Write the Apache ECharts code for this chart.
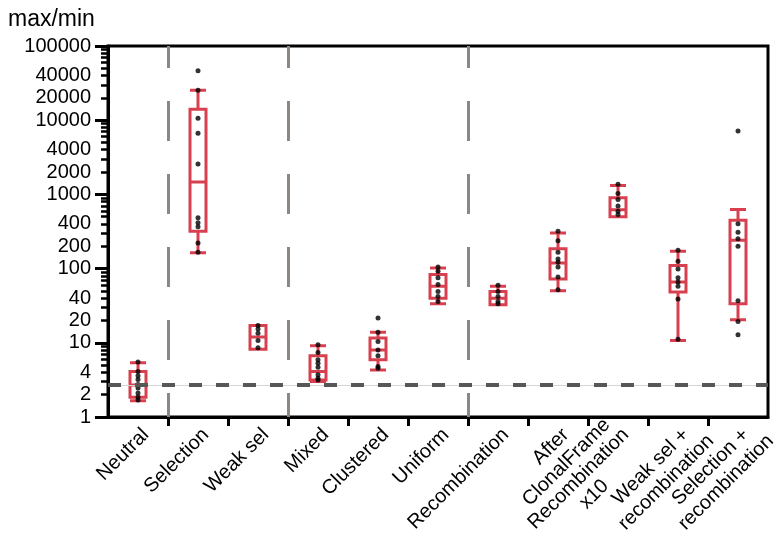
<!DOCTYPE html>
<html><head><meta charset="utf-8">
<script src="https://cdn.jsdelivr.net/npm/echarts@6/dist/echarts.min.js"></script>
<style>html,body{margin:0;padding:0;background:#fff}#c{width:776px;height:543px}</style>
</head><body><div id="c"></div>
<script>
// ---- data (raw values) ----
const categories = ['Neutral', 'Selection', 'Weak sel', 'Mixed', 'Clustered', 'Uniform',
  'Recombination', 'After\nClonalFrame', 'Recombination\nx10', 'Weak sel +\nrecombination', 'Selection +\nrecombination'];

const boxMin    = [1.65, 163,   8.2,  3.0,  4.3,  33.6, 32.6, 50.4, 499,  10.7, 20.5];
const boxQ1     = [1.85, 319,   8.2,  3.16, 5.9,  40,   32.6, 72.6, 499,  48.4, 33.6];
const boxMedian = [2.7,  1470,  12,   4.1,  8.0,  57.7, 40,   119,  620,  66,   241];
const boxQ3     = [4.1,  14100, 17.1, 6.67, 11.6, 83,   49,   185,  902,  110,  450];
const boxMax    = [5.4,  25400, 17.1, 9.1,  13.9, 102,  57.7, 303,  1320, 171,  627];

const ptsNeutral   = [5.5, 4.1, 3.6, 3.2, 2.75, 2.45, 2.1, 1.86, 1.7];
const ptsSelection = [46500, 25400, 10600, 6670, 2570, 484, 414, 366, 222, 166];
const ptsWeakSel   = [17.1, 15.3, 13.5, 10.7, 8.6];
const ptsMixed     = [9.4, 7.4, 5.9, 5.3, 4.7, 3.7, 3.33, 3.16];
const ptsClustered = [21.6, 13.9, 10.4, 8.0, 6.67, 4.78, 4.55];
const ptsUniform   = [105, 92, 75, 61, 49, 42, 36];
const ptsRecomb    = [59.5, 49, 42, 36, 33.6];
const ptsAfterCF   = [319, 237, 166, 135, 122, 105, 77, 52];
const ptsRecombX10 = [1365, 1032, 855, 695, 595, 537];
const ptsWeakRec   = [177, 126, 99, 75, 66, 58, 39, 11.2];
const ptsSelRec    = [7170, 402, 309, 252, 200, 37, 19.4, 12.8];
const pointSets = [ptsNeutral, ptsSelection, ptsWeakSel, ptsMixed, ptsClustered, ptsUniform,
  ptsRecomb, ptsAfterCF, ptsRecombX10, ptsWeakRec, ptsSelRec];

const yTickLabels = [1, 2, 4, 10, 20, 40, 100, 200, 400, 1000, 2000, 4000, 10000, 20000, 40000, 100000];
const yMajorTicks = [1, 10, 100, 1000, 10000, 100000];
const yMinorTicks = [];
for (let d = 1; d <= 10000; d *= 10) for (let k = 2; k <= 9; k++) yMinorTicks.push(k * d);
const dividerPositions = [0.5, 2.5, 5.5];        // between category groups
const boundaryTicks = [0.5, 1.5, 2.5, 3.5, 4.5, 5.5, 6.5, 7.5, 8.5, 9.5];
const referenceLevel = Math.E;

// ---- styling ----
const FONT = '"Liberation Sans", Arial, Helvetica, sans-serif';
const LABEL_SIZE = 20, LINE_H = 22;
const RED = '#d8404f';
const LOG = v => Math.log10(v);

const ctx = document.createElement('canvas').getContext('2d');
ctx.font = LABEL_SIZE + 'px ' + FONT;
function labelItem(name) {
  const lines = name.split('\n');
  if (lines.length === 1) return name;
  const w1 = ctx.measureText(lines[0]).width;
  // centred lines, first line's end sits where a single-line label would end
  return { value: name, textStyle: { align: 'center', verticalAlign: 'top', padding: [0, w1, 0, 0] } };
}

const boxData = categories.map((c, i) => [boxMin[i], boxQ1[i], boxMedian[i], boxQ3[i], boxMax[i]].map(LOG));
const pointData = [];
pointSets.forEach((arr, i) => arr.forEach(v => pointData.push([i, LOG(v)])));

const chart = echarts.init(document.getElementById('c'), null, { renderer: 'canvas' });
chart.setOption({
  animation: false,
  backgroundColor: '#fff',
  title: { text: 'max/min', left: 3, top: 3, textStyle: { fontSize: 23, fontWeight: 'normal', color: '#000', fontFamily: FONT } },
  grid: { left: 108, right: 8, top: 46, bottom: 126, containLabel: false, outerBoundsMode: 'none',
    show: true, borderColor: '#000', borderWidth: 3, backgroundColor: 'transparent' },
  xAxis: [{
    type: 'category', data: categories.map(labelItem), boundaryGap: true,
    axisLine: { show: true, onZero: false, lineStyle: { color: '#000', width: 3 } },
    axisTick: { show: false },
    axisLabel: { interval: 0, rotate: 45, verticalAlign: 'top', fontSize: LABEL_SIZE, lineHeight: LINE_H, color: '#000', margin: 7, fontFamily: FONT },
    splitLine: { show: false }
  }, {
    type: 'value', min: -0.5, max: 10.5, position: 'bottom',
    axisLine: { show: false, onZero: false },
    axisTick: { show: true, customValues: boundaryTicks, length: 9, lineStyle: { color: '#000', width: 3 } },
    axisLabel: { show: false }, splitLine: { show: false }
  }],
  yAxis: [{
    type: 'value', min: 0, max: 5, position: 'left',
    axisLine: { show: true, onZero: false, lineStyle: { color: '#000', width: 3 } },
    axisTick: { show: true, customValues: yMinorTicks.map(LOG), length: 7, lineStyle: { color: '#000', width: 2.5 } },
    axisLabel: { customValues: yTickLabels.map(LOG), formatter: v => String(Math.round(Math.pow(10, v))),
      fontSize: LABEL_SIZE, color: '#000', margin: 17, fontFamily: FONT },
    splitLine: { show: false }
  }, {
    type: 'value', min: 0, max: 5, position: 'left',
    axisLine: { show: false, onZero: false },
    axisTick: { show: true, customValues: yMajorTicks.map(LOG), length: 13, lineStyle: { color: '#000', width: 3 } },
    axisLabel: { show: false }, splitLine: { show: false }
  }],
  series: [{
    type: 'scatter', xAxisIndex: 1, yAxisIndex: 0, data: [], z: 1, silent: true,
    markLine: {
      silent: true, symbol: 'none', label: { show: false }, animation: false,
      data: [
        { yAxis: LOG(referenceLevel), lineStyle: { color: '#d4d4d4', width: 1, type: 'solid' } },
        { yAxis: LOG(referenceLevel), lineStyle: { color: '#575757', width: 4, type: [13, 14] } },
        ...dividerPositions.map(p => ({ xAxis: p, lineStyle: { color: '#8c8782', width: 3, type: [40, 33], dashOffset: 16 } }))
      ]
    }
  }, {
    type: 'boxplot', xAxisIndex: 0, yAxisIndex: 0, data: boxData, z: 3, boxWidth: [16, 16],
    itemStyle: { color: '#fff', borderColor: RED, borderWidth: 3 }
  }, {
    type: 'scatter', xAxisIndex: 0, yAxisIndex: 0, data: pointData, z: 4,
    symbol: 'circle', symbolSize: 5, itemStyle: { color: '#000' }
  }]
});
</script></body></html>
